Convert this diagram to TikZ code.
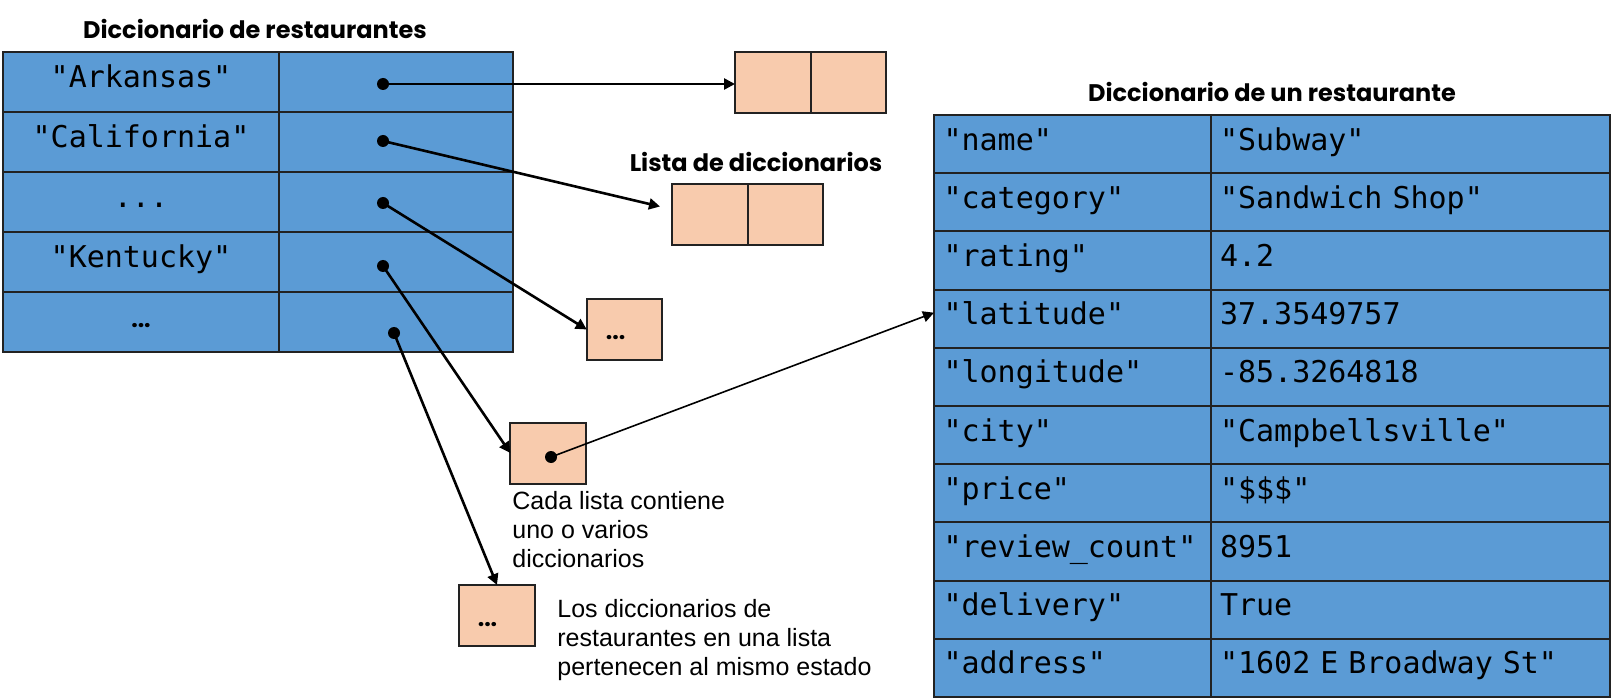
\documentclass[tikz,border=0pt]{standalone}
\usepackage{fontspec}
\setmainfont{Liberation Sans}
\setmonofont{DejaVu Sans Mono}
\newfontfamily\headfont{Poppins}
\usetikzlibrary{positioning,arrows.meta}

\definecolor{dictblue}{HTML}{5B9BD5}
\definecolor{listorange}{HTML}{F8CBAD}
\definecolor{cellline}{HTML}{222222}

\newcommand\cellfont{\ttfamily\fontsize{15}{17}\selectfont\frenchspacing\spaceskip=0.602em\relax}

\tikzset{
	cell/.style={draw=cellline, line width=1pt, fill=dictblue, outer sep=0pt, inner sep=0pt,
		font=\cellfont, text height=10pt, text depth=4pt},
	statekey/.style={cell, minimum width=138pt, minimum height=30pt},
	stateval/.style={cell, minimum width=117pt, minimum height=30pt},
	fieldkey/.style={cell, minimum width=138.5pt, minimum height=29.1pt, text width=129pt, align=left},
	fieldval/.style={cell, minimum width=199.5pt, minimum height=29.1pt, text width=190.5pt, align=left},
	listcell/.style={draw=cellline, line width=1pt, fill=listorange, outer sep=0pt,
		minimum width=37.75pt, minimum height=30.5pt},
	heading/.style={font=\headfont\bfseries\fontsize{12}{14}\selectfont},
	more/.style={font=\headfont\bfseries\fontsize{11.5}{14}\selectfont, inner sep=0pt},
	note/.style={font=\fontsize{12.5}{14.4}\selectfont, align=left, inner sep=0pt, anchor=north west},
	ptr/.style={circle, fill=black, inner sep=0pt, minimum size=6pt},
	link/.style={-{Triangle[length=5.5pt,width=5.5pt]}, line width=1.3pt},
}

\begin{document}
\begin{tikzpicture}[x=0.5pt,y=-0.5pt]
	\useasboundingbox (0,0) rectangle (1612,700);

	% diccionario de estados
	\node[heading] (title1) at (255,29) {Diccionario de restaurantes};
	\node[statekey] (s1) at (141,82) {"Arkansas"};
	\node[statekey, below=0pt of s1] (s2) {"California"};
	\node[statekey, below=0pt of s2] (s3) {...};
	\node[statekey, below=0pt of s3] (s4) {"Kentucky"};
	\node[statekey, below=0pt of s4] (s5) {\headfont\bfseries\fontsize{11.5}{14}\selectfont ...};
	\node[stateval, right=0pt of s1] (v1) {};
	\node[stateval, right=0pt of s2] (v2) {};
	\node[stateval, right=0pt of s3] (v3) {};
	\node[stateval, right=0pt of s4] (v4) {};
	\node[stateval, right=0pt of s5] (v5) {};

	% listas
	\node[listcell] (lArk1) at (772.75,82.5) {};
	\node[listcell, right=0pt of lArk1] (lArk2) {};
	\node[heading] (title2) at (756,162) {Lista de diccionarios};
	\node[listcell] (lCal1) at (709.75,214.5) {};
	\node[listcell, right=0pt of lCal1] (lCal2) {};
	\node[listcell] (lDots) at (624.5,329.5) {};
	\node[more] at (615.5,338) {...};
	\node[listcell] (lKen) at (548,453) {};
	\node[listcell] (lMore) at (497,615.5) {};
	\node[more] at (487.5,625) {...};

	% diccionario de un restaurante
	\node[heading] (title3) at (1272,92) {Diccionario de un restaurante};
	\foreach \k/\v [count=\i] in {"name"/"Subway", "category"/"Sandwich Shop", "rating"/4.2,
		"latitude"/37.3549757, "longitude"/-85.3264818, "city"/"Campbellsville", "price"/"\$\$\$",
		"review\_count"/8951, "delivery"/True, "address"/"1602 E Broadway St"}
	{
		\node[fieldkey] (f\i) at (1072.5,{115+58.2*(\i-0.5)}) {\k};
		\node[fieldval, right=0pt of f\i] (w\i) {\v};
	}

	% notas
	\node[note] (n1) at (512,491) {Cada lista contiene\\uno o varios\\diccionarios};
	\node[note] (n2) at (557,599) {Los diccionarios de\\restaurantes en una lista\\pertenecen al mismo estado};

	% punteros
	\node[ptr] (p1) at (383,84) {};
	\node[ptr] (p2) at (383,141) {};
	\node[ptr] (p3) at (383,203) {};
	\node[ptr] (p4) at (383,266) {};
	\node[ptr] (p5) at (394,333) {};
	\node[ptr] (p6) at (551,457) {};
	\coordinate (tCal) at ([xshift=-6pt,yshift=4pt]lCal1.west);

	\draw[link] (p1.center) -- (p1 -| lArk1.west);
	\draw[link] (p2.center) -- (tCal);
	\draw[link] (p3.center) -- (lDots.west);
	\draw[link] (p4.center) -- (lKen.west);
	\draw[link] (p5.center) -- (lMore.north);
	\draw[link, line width=0.8pt] (p6.center) -- ([yshift=3pt]f4.west);
\end{tikzpicture}
\end{document}
